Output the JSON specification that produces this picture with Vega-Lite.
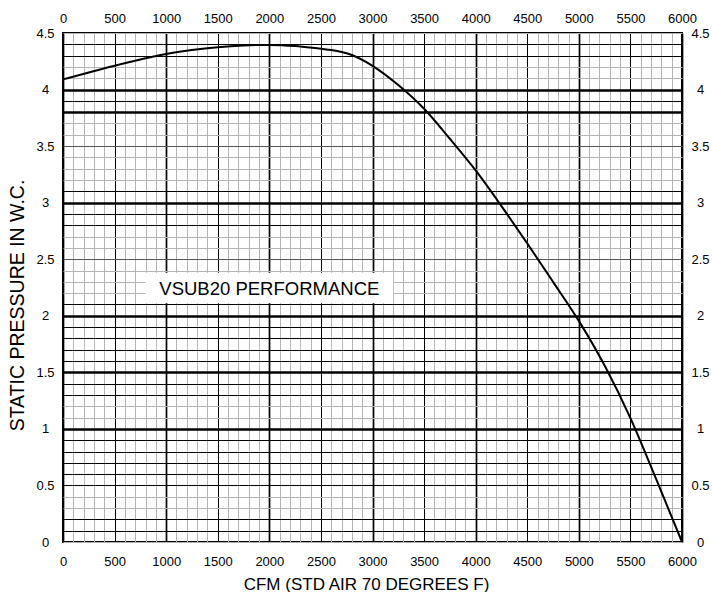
{
  "$schema": "https://vega.github.io/schema/vega-lite/v6.json",
  "autosize": {"type": "none"},
  "width": 619,
  "height": 509,
  "padding": {"left": 63, "top": 33, "right": 30, "bottom": 50},
  "background": "white",
  "config": {
    "view": {"stroke": "black", "strokeWidth": 2},
    "font": "Liberation Sans",
    "axis": {"labelFont": "Liberation Sans", "titleFont": "Liberation Sans", "labelColor": "black", "titleColor": "black", "labelFontSize": 13, "titleFontWeight": "normal", "ticks": false, "tickSize": 0, "domain": false, "labelOverlap": false, "labelFlush": false}
  },
  "datasets": {
    "curve": [
      {"cfm": 0, "sp": 4.09},
      {"cfm": 250, "sp": 4.15},
      {"cfm": 500, "sp": 4.21},
      {"cfm": 750, "sp": 4.265},
      {"cfm": 1000, "sp": 4.315},
      {"cfm": 1250, "sp": 4.35},
      {"cfm": 1500, "sp": 4.375},
      {"cfm": 1750, "sp": 4.39},
      {"cfm": 2000, "sp": 4.395},
      {"cfm": 2250, "sp": 4.385},
      {"cfm": 2500, "sp": 4.36},
      {"cfm": 2600, "sp": 4.35},
      {"cfm": 2800, "sp": 4.305},
      {"cfm": 3000, "sp": 4.21},
      {"cfm": 3250, "sp": 4.04},
      {"cfm": 3500, "sp": 3.83},
      {"cfm": 3750, "sp": 3.565},
      {"cfm": 4000, "sp": 3.285},
      {"cfm": 4250, "sp": 2.97},
      {"cfm": 4500, "sp": 2.64},
      {"cfm": 4750, "sp": 2.3},
      {"cfm": 5000, "sp": 1.955},
      {"cfm": 5250, "sp": 1.56},
      {"cfm": 5500, "sp": 1.095},
      {"cfm": 5750, "sp": 0.555},
      {"cfm": 6000, "sp": 0.0}
    ],
    "box": [{"x1": 800, "x2": 3200, "y1": 2.11, "y2": 2.38}],
    "label": [{"cfm": 2000, "sp": 2.24, "text": "VSUB20 PERFORMANCE"}]
  },
  "resolve": {"axis": {"x": "independent", "y": "independent"}},
  "layer": [
    {
      "data": {"name": "box"},
      "mark": {"type": "rect", "fill": "white", "stroke": null},
      "encoding": {
        "x": {"field": "x1", "type": "quantitative",
          "scale": {"domain": [0, 6000], "nice": false, "zero": false},
          "axis": {
            "orient": "bottom",
            "title": "CFM (STD AIR 70 DEGREES F)",
            "titleFontSize": 17,
            "titleX": 303, "titleY": 47, "titleBaseline": "alphabetic",
            "values": [0,100,200,300,400,500,600,700,800,900,1000,1100,1200,1300,1400,1500,1600,1700,1800,1900,2000,2100,2200,2300,2400,2500,2600,2700,2800,2900,3000,3100,3200,3300,3400,3500,3600,3700,3800,3900,4000,4100,4200,4300,4400,4500,4600,4700,4800,4900,5000,5100,5200,5300,5400,5500,5600,5700,5800,5900,6000],
            "labelExpr": "datum.value % 500 === 0 ? toString(datum.value) : ''",
            "labelAlign": "center", "labelBaseline": "middle", "labelPadding": 19,
            "grid": true,
            "gridOpacity": 1,
            "gridColor": {"condition": {"test": "datum.value % 500 === 0", "value": "#000000"}, "value": "#b4b4b4"},
            "gridWidth": {"condition": {"test": "datum.value % 1000 === 0", "value": 1.7}, "value": 1}
          }
        },
        "x2": {"field": "x2"},
        "y": {"field": "y1", "type": "quantitative",
          "scale": {"domain": [0, 4.5], "nice": false, "zero": false},
          "axis": {
            "orient": "left",
            "title": "STATIC PRESSURE IN W.C.",
            "titleFontSize": 19.5,
            "titleX": -46, "titleY": 272, "titleBaseline": "middle", "titleAlign": "center", "titleAngle": -90,
            "values": [0,0.1,0.2,0.3,0.4,0.5,0.6,0.7,0.8,0.9,1,1.1,1.2,1.3,1.4,1.5,1.6,1.7,1.8,1.9,2,2.1,2.2,2.3,2.4,2.5,2.6,2.7,2.8,2.9,3,3.1,3.2,3.3,3.4,3.5,3.6,3.7,3.8,3.9,4,4.1,4.2,4.3,4.4,4.5],
            "labelExpr": "round(datum.value*10) % 5 === 0 ? toString(round(datum.value*10)/10) : ''",
            "labelAlign": "center", "labelBaseline": "middle", "labelPadding": 18,
            "grid": true,
            "gridOpacity": 1,
            "gridColor": {"condition": [
              {"test": "indexof([44,43,40,39,38,31,30,29,28,21,20,19,18,17,16,15,14,13,10,9,8,7,6,5,2,1], round(datum.value*10)) >= 0", "value": "#000000"},
              {"test": "indexof([35,25], round(datum.value*10)) >= 0", "value": "#555555"}
            ], "value": "#b4b4b4"},
            "gridWidth": {"condition": {"test": "indexof([40,38,30,20,15,10], round(datum.value*10)) >= 0", "value": 2.6}, "value": 1}
          }
        },
        "y2": {"field": "y2"}
      }
    },
    {
      "data": {"name": "curve"},
      "mark": {"type": "line", "color": "black", "strokeWidth": 2, "interpolate": "monotone"},
      "encoding": {
        "x": {"field": "cfm", "type": "quantitative",
          "scale": {"domain": [0, 6000], "nice": false, "zero": false},
          "axis": {"orient": "top", "title": null, "grid": false,
            "values": [0,500,1000,1500,2000,2500,3000,3500,4000,4500,5000,5500,6000],
            "labelExpr": "toString(datum.value)",
            "labelAlign": "center", "labelBaseline": "middle", "labelPadding": 15}
        },
        "y": {"field": "sp", "type": "quantitative",
          "scale": {"domain": [0, 4.5], "nice": false, "zero": false},
          "axis": {"orient": "right", "title": null, "grid": false,
            "values": [0,0.5,1,1.5,2,2.5,3,3.5,4,4.5],
            "labelExpr": "toString(datum.value)",
            "labelAlign": "center", "labelBaseline": "middle", "labelPadding": 18}
        }
      }
    },
    {
      "data": {"name": "label"},
      "mark": {"type": "text", "font": "Liberation Sans", "fontSize": 18.5, "color": "black", "align": "center", "baseline": "middle"},
      "encoding": {
        "x": {"field": "cfm", "type": "quantitative", "scale": {"domain": [0, 6000], "nice": false, "zero": false}, "axis": null},
        "y": {"field": "sp", "type": "quantitative", "scale": {"domain": [0, 4.5], "nice": false, "zero": false}, "axis": null},
        "text": {"field": "text"}
      }
    }
  ]
}
